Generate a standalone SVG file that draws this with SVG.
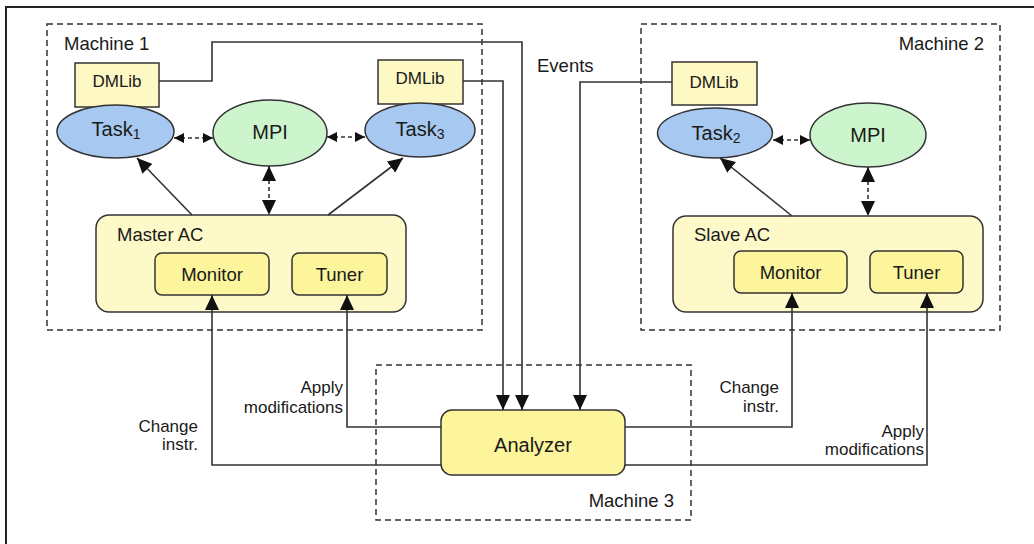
<svg xmlns="http://www.w3.org/2000/svg" width="1034" height="544" viewBox="0 0 1034 544">
<style>
.frame{fill:none;stroke:#222;stroke-width:2}
.mach{fill:none;stroke:#333;stroke-width:1.5;stroke-dasharray:6 4}
.conn{fill:none;stroke:#333;stroke-width:1.6}
.dconn{fill:none;stroke:#333;stroke-width:1.6;stroke-dasharray:4 3}
.dml{fill:#fdf8c4;stroke:#333;stroke-width:1.5}
.task{fill:#a7c8f0;stroke:#333;stroke-width:1.5}
.mpi{fill:#cdf5cd;stroke:#333;stroke-width:1.5}
.ac{fill:#fdf9c9;stroke:#333;stroke-width:1.5}
.mod{fill:#fcf59c;stroke:#333;stroke-width:1.5}
text{font-family:"Liberation Sans",Arial,sans-serif;fill:#1a1a1a}
.t17{font-size:17px}
.t18{font-size:18.5px}
.t20{font-size:20px}
.mid{text-anchor:middle}
.end{text-anchor:end}
</style>
<defs>
<marker id="ah" markerUnits="userSpaceOnUse" viewBox="0 0 15 14" markerWidth="15" markerHeight="14" refX="15" refY="7" orient="auto-start-reverse"><path d="M0,0 L15,7 L0,14 z" fill="#111"/></marker>
<marker id="as" markerUnits="userSpaceOnUse" viewBox="0 0 10 10" markerWidth="10" markerHeight="10" refX="10" refY="5" orient="auto-start-reverse"><path d="M0,0 L10,5 L0,10 z" fill="#111"/></marker>
</defs>
<rect width="1034" height="544" fill="#fff"/>
<path class="frame" d="M6,544 L6,7 L1034,7"/>

<g id="machine1">
<rect class="mach" x="47" y="24" width="435" height="306"/>
<text class="t18" x="64" y="50">Machine 1</text>
</g>
<g id="machine2">
<rect class="mach" x="641" y="24" width="359" height="306"/>
<text class="t18 end" x="984" y="50">Machine 2</text>
</g>
<g id="machine3">
<rect class="mach" x="376" y="365" width="315" height="155"/>
<text class="t18 end" x="674" y="507">Machine 3</text>
</g>

<g id="dmlib1">
<rect class="dml" x="75" y="63" width="84" height="44"/>
<text class="t17 mid" x="117" y="87">DMLib</text>
</g>
<g id="dmlib3">
<rect class="dml" x="378" y="60" width="85" height="44"/>
<text class="t17 mid" x="420" y="84">DMLib</text>
</g>
<g id="dmlib2">
<rect class="dml" x="672" y="62" width="85" height="43"/>
<text class="t17 mid" x="714" y="88">DMLib</text>
</g>

<g id="task1">
<ellipse class="task" cx="115.5" cy="131.5" rx="58.5" ry="26.5"/>
<text class="t20 mid" x="116" y="136">Task<tspan font-size="14" dy="3">1</tspan></text>
</g>
<g id="mpi1">
<ellipse class="mpi" cx="270" cy="133" rx="57" ry="33"/>
<text class="t20 mid" x="270" y="139">MPI</text>
</g>
<g id="task3">
<ellipse class="task" cx="420" cy="130" rx="55" ry="27"/>
<text class="t20 mid" x="420" y="136">Task<tspan font-size="14" dy="3">3</tspan></text>
</g>
<g id="task2">
<ellipse class="task" cx="715" cy="133" rx="57.5" ry="25"/>
<text class="t20 mid" x="716" y="140">Task<tspan font-size="14" dy="3">2</tspan></text>
</g>
<g id="mpi2">
<ellipse class="mpi" cx="868" cy="135" rx="58" ry="32"/>
<text class="t20 mid" x="868" y="142">MPI</text>
</g>

<g id="masterAC">
<rect class="ac" x="96" y="215" width="310" height="97" rx="13"/>
<text class="t18" x="117" y="241">Master AC</text>
</g>
<g id="monitor1">
<rect class="mod" x="155" y="253" width="114" height="42" rx="7"/>
<text class="t18 mid" x="212" y="281">Monitor</text>
</g>
<g id="tuner1">
<rect class="mod" x="292" y="253" width="95" height="42" rx="7"/>
<text class="t18 mid" x="339.5" y="281">Tuner</text>
</g>

<g id="slaveAC">
<rect class="ac" x="673" y="216" width="310" height="96" rx="13"/>
<text class="t18" x="694" y="241">Slave AC</text>
</g>
<g id="monitor2">
<rect class="mod" x="734" y="251" width="113" height="42" rx="7"/>
<text class="t18 mid" x="790.5" y="279">Monitor</text>
</g>
<g id="tuner2">
<rect class="mod" x="870" y="251" width="93" height="42" rx="7"/>
<text class="t18 mid" x="916.5" y="279">Tuner</text>
</g>

<g id="analyzer">
<rect class="mod" x="441" y="410" width="184" height="65" rx="11"/>
<text class="t20 mid" x="533" y="452">Analyzer</text>
</g>

<g id="connectors">
<path class="conn" d="M159,81 L212,81 L212,42 L522,42 L522,410" marker-end="url(#ah)"/>
<path class="conn" d="M463,81 L503,81 L503,410" marker-end="url(#ah)"/>
<path class="conn" d="M672,82 L580,82 L580,410" marker-end="url(#ah)"/>
<path class="conn" d="M441,427 L347,427 L347,295" marker-end="url(#ah)"/>
<path class="conn" d="M441,465 L212,465 L212,295" marker-end="url(#ah)"/>
<path class="conn" d="M625,427 L792,427 L792,293" marker-end="url(#ah)"/>
<path class="conn" d="M625,465 L927,465 L927,293" marker-end="url(#ah)"/>
<path class="conn" d="M192,215 L137,158" marker-end="url(#ah)"/>
<path class="conn" d="M328,215 L403,158" marker-end="url(#ah)"/>
<path class="conn" d="M792,216 L720,158" marker-end="url(#ah)"/>
<path class="dconn" d="M269,166 L269,215" marker-start="url(#ah)" marker-end="url(#ah)"/>
<path class="dconn" d="M868,167 L868,216" marker-start="url(#ah)" marker-end="url(#ah)"/>
<path class="dconn" d="M174,138 L213,138" marker-start="url(#as)" marker-end="url(#as)"/>
<path class="dconn" d="M327,137 L365,137" marker-start="url(#as)" marker-end="url(#as)"/>
<path class="dconn" d="M773,140 L810,140" marker-start="url(#as)" marker-end="url(#as)"/>
<text class="t18" x="537" y="72">Events</text>
<text class="t17 end" x="343" y="393">Apply</text>
<text class="t17 end" x="343" y="413">modifications</text>
<text class="t17 end" x="198" y="432">Change</text>
<text class="t17 end" x="198" y="450">instr.</text>
<text class="t17 end" x="779" y="393">Change</text>
<text class="t17 end" x="779" y="412">instr.</text>
<text class="t17 end" x="924" y="437">Apply</text>
<text class="t17 end" x="924" y="455">modifications</text>
</g>
</svg>
